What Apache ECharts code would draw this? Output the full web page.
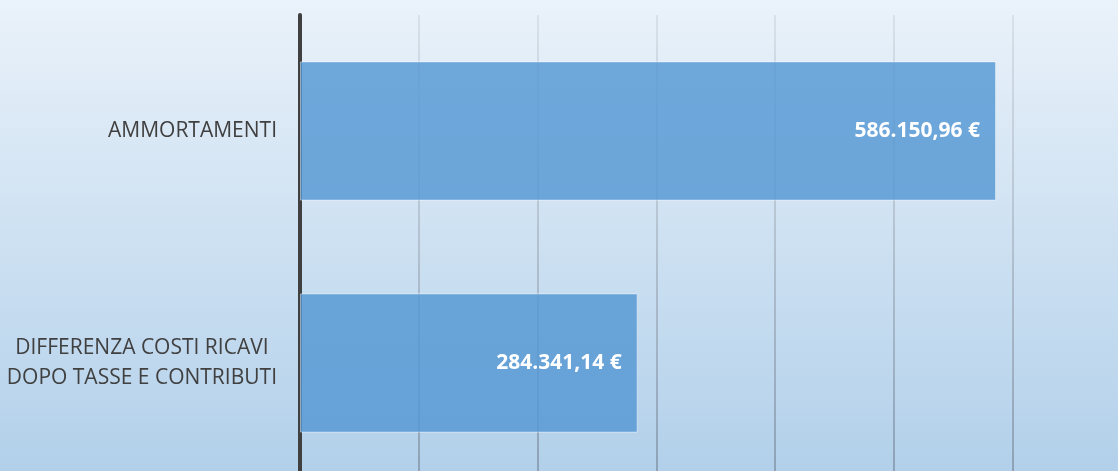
<!DOCTYPE html>
<html>
<head>
<meta charset="utf-8">
<script src="https://cdn.jsdelivr.net/npm/echarts@6/dist/echarts.min.js"></script>
<style>
  html, body { margin: 0; padding: 0; }
  #chart { width: 1118px; height: 471px; }
</style>
</head>
<body>
<div id="chart"></div>
<script>
// dati
const categories = ['AMMORTAMENTI', 'DIFFERENZA COSTI RICAVI\nDOPO TASSE E CONTRIBUTI']
const values = [586150.96, 284341.14]
const axisMax = 700000
const axisStep = 100000

// 586150.96 -> "586.150,96 €"
function euro(v) {
  const parts = v.toFixed(2).split('.')
  const int = parts[0].replace(/\B(?=(\d{3})+(?!\d))/g, '.')
  return int + ',' + parts[1] + ' €'
}

const chart = echarts.init(document.getElementById('chart'))

chart.setOption({
  animation: false,
  backgroundColor: new echarts.graphic.LinearGradient(0, 0, 0, 1, [
    { offset: 0, color: '#eaf2fa' },
    { offset: 1, color: '#b2d0ea' },
  ]),
  // the plot runs past the right and bottom edges of the canvas
  grid: { left: 300, top: 15, width: 831.25, height: 464, outerBoundsMode: 'none' },
  xAxis: {
    type: 'value',
    min: 0,
    max: axisMax,
    interval: axisStep,
    axisLine: { show: false },
    axisTick: { show: false },
    axisLabel: { show: false },
    splitLine: {
      show: true,
      lineStyle: {
        width: 1.5,
        color: new echarts.graphic.LinearGradient(0, 15, 0, 471, [
          { offset: 0, color: '#d3dae2' },
          { offset: 1, color: '#8193a6' },
        ], true),
      },
    },
  },
  yAxis: {
    type: 'category',
    inverse: true,
    data: categories,
    axisLine: { show: true, lineStyle: { color: '#404040', width: 4 } },
    axisTick: { show: false },
    axisLabel: {
      margin: 23,
      color: '#404040',
      fontFamily: 'Open Sans',
      fontSize: 21,
      lineHeight: 30,
      formatter: (v) => v.split('\n').map((s) => '{c|' + s + '}').join('\n'),
      rich: {
        c: { align: 'center', color: '#404040', fontFamily: 'Open Sans', fontSize: 21, lineHeight: 30 },
      },
    },
  },
  series: [
    {
      type: 'bar',
      data: values,
      barCategoryGap: '40%',
      itemStyle: {
        color: 'rgba(84,151,211,0.82)',
        borderColor: 'rgba(255,255,255,0.45)',
        borderWidth: 1,
      },
      label: {
        show: true,
        position: 'insideRight',
        distance: 16,
        color: '#ffffff',
        fontFamily: 'Open Sans',
        fontWeight: 'bold',
        fontSize: 21,
        formatter: (p) => euro(p.value),
      },
    },
  ],
})
</script>
</body>
</html>
